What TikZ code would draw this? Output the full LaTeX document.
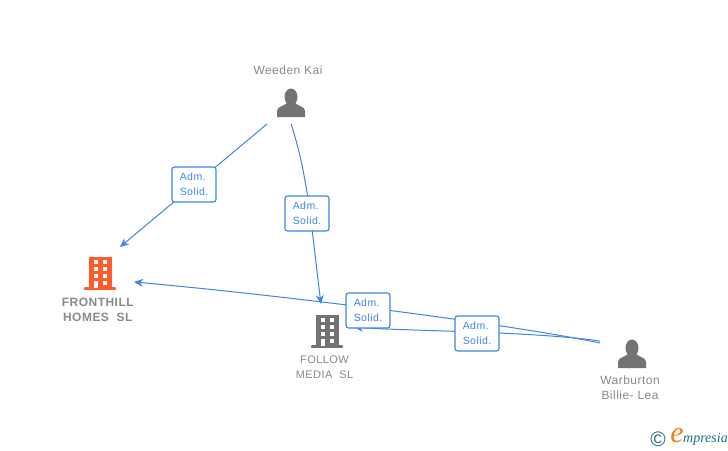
\documentclass[tikz,border=0pt]{standalone}
\usepackage{fontspec}
\setmainfont{Liberation Sans}
\newfontfamily\spacedfont[LetterSpace=4]{Liberation Sans}
\newfontfamily\logofont{Liberation Serif}
\usetikzlibrary{positioning,arrows.meta}
\definecolor{linkblue}{HTML}{3D85E6}
\definecolor{icongray}{HTML}{737373}
\definecolor{labelgray}{HTML}{8A8A8A}
\definecolor{iconorange}{HTML}{FF5A2B}
\definecolor{logoteal}{HTML}{1F6F7F}
\definecolor{logoorange}{HTML}{F07D1A}
\tikzset{
  iconbox/.style={minimum width=#1, inner sep=0pt, outer sep=0pt},
  name label/.style={inner sep=0pt, text=labelgray, align=center, font=\spacedfont\fontsize{12}{15}\selectfont},
  link/.style={linkblue, line width=1pt, -{Stealth[length=9pt,width=8pt]}},
  role box/.style={draw=linkblue, line width=1.1pt, fill=white, rounded corners=2.5pt, text=linkblue,
    minimum width=44pt, minimum height=35pt, inner sep=0pt, align=left, font=\spacedfont\fontsize{10.5}{15}\selectfont},
  pics/person/.style={code={
      \fill[icongray] (0,-6) ellipse (6.5 and 8.5);
      \fill[icongray] (-14,14) -- (-14,8) .. controls (-14,3.5) and (-7,3) .. (-4,0) -- (4,0)
        .. controls (7,3) and (14,3.5) .. (14,8) -- (14,14) -- cycle;
  }},
  pics/building/.style={code={
      \fill[#1] (-11.5,-16.5) rectangle (11.5,16.5);
      \fill[#1, rounded corners=0.8pt] (-16,14.2) rectangle (16,16.8);
      \foreach \rowy in {-13.5,-6,1} {
        \fill[white] (-6.5,\rowy) rectangle ++(4.5,4);
        \fill[white] (2.5,\rowy) rectangle ++(4.5,4);
      }
      \fill[white] (-6.5,7.5) rectangle (-2,14.5);
      \fill[white] (2.5,7.5) rectangle ++(4.5,4);
  }},
}
\begin{document}
\begin{tikzpicture}[x=1pt,y=-1pt]
  \useasboundingbox[fill=white] (0,0) rectangle (728,450);

  % icons
  \node[iconbox=48pt, minimum height=42pt] (weeden) at (291,103) {};
  \pic at (weeden.center) {person};
  \node[iconbox=40pt, minimum height=52pt] (fronthill) at (100,273) {};
  \pic at (fronthill.center) {building=iconorange};
  \node[iconbox=40pt, minimum height=54pt] (follow) at (327,331) {};
  \pic at (follow.center) {building=icongray};
  \node[iconbox=64pt, minimum height=26pt] (warburton) at (632,354) {};
  \pic at (warburton.center) {person};

  % names
  \node[name label] (weedenname) at (288,70) {Weeden Kai};
  \node[name label] (fronthillname) at (98,309.5) {\textbf{FRONTHILL}\\\textbf{HOMES\ \ SL}};
  \node[name label, font=\spacedfont\fontsize{11}{15}\selectfont] (followname) at (324.5,367.5) {FOLLOW\\MEDIA\ \ SL};
  \node[name label] (warburtonname) at (630,388) {Warburton\\Billie- Lea};

  \coordinate (warburtonlow) at (600,343);
  \coordinate (fronthillin) at (134,282);
  \coordinate (followtop) at (321,304);
  \coordinate (followin) at (354,327);

  \draw[link] (weeden.south west) -- (fronthill.north east);
  \draw[link] (weeden.south) .. controls (308,175) and (311,225) .. (followtop);
  \draw[link] (warburtonlow) .. controls (510,324) and (280,295) .. (fronthillin);
  \draw[link] (warburton.north west) .. controls (530,331) and (400,331) .. (followin);

  % role boxes
  \node[role box] (rolea) at (194,184.5) {Adm.\\Solid.};
  \node[role box] (roleb) at (307,213.5) {Adm.\\Solid.};
  \node[role box] (rolec) at (368,310.5) {Adm.\\Solid.};
  \node[role box] (roled) at (477,333.5) {Adm.\\Solid.};

  % logo
  \node[text=logoteal, inner sep=0pt, font=\fontsize{21}{21}\selectfont] (logocopy) at (658,439) {©};
  \node[text=logoorange, inner sep=0pt, font=\logofont\itshape\fontsize{30}{30}\selectfont] (logoe) at (677,436) {e};
  \node[text=logoteal, inner sep=0pt, anchor=west, font=\logofont\itshape\fontsize{14}{14}\selectfont] (logotext) at (683,439) {mpresia};
\end{tikzpicture}
\end{document}
